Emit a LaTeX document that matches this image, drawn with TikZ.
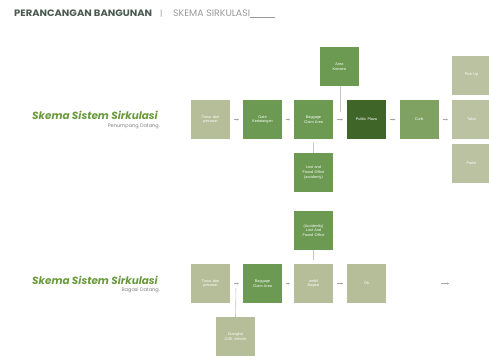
\documentclass[tikz,border=0pt]{standalone}
\usepackage{fontspec}
\setmainfont{Liberation Sans}
\newfontfamily\titlefont{Poppins}
\usetikzlibrary{arrows.meta}
\definecolor{sage}{HTML}{B5BE99}
\definecolor{sagelt}{HTML}{BAC2A1}
\definecolor{midgreen}{HTML}{6C9A52}
\definecolor{curbgreen}{HTML}{7FA263}
\definecolor{darkgreen}{HTML}{3F6628}
\definecolor{titlegreen}{HTML}{6A9A3C}
\definecolor{headgray}{HTML}{4A5A50}
\tikzset{
  box/.style={minimum width=39pt, minimum height=39pt, inner sep=1pt, align=center,
    text width=36pt, text=white, font=\fontsize{3.8}{4.6}\selectfont, draw=none},
  flow/.style={draw=gray!70, line width=0.5pt, -{Stealth[length=2pt,width=2pt]},
    shorten >=4pt, shorten <=4pt},
  link/.style={draw=gray!45, line width=0.6pt},
}
\begin{document}
\begin{tikzpicture}[x=1pt,y=-1pt]
\useasboundingbox (0,0) rectangle (489,360);
% header
\node[anchor=base west, inner sep=0, text=headgray] (hd1) at (14,16.5) {\resizebox{138pt}{6.6pt}{\titlefont\bfseries PERANCANGAN\ BANGUNAN}};
\node[anchor=base west, inner sep=0, text=gray!80, font=\titlefont\fontsize{8}{10}\selectfont] (hd0) at (160,16.5) {|};
\node[anchor=base west, inner sep=0, text=gray!80] (hd2) at (173,16.5) {\resizebox{77pt}{6.6pt}{\titlefont SKEMA SIRKULASI}};
\node[anchor=base west, inner sep=0, text=gray!80] (hd3) at (250,16.5) {\rule[-0.8pt]{25pt}{0.5pt}};
% section titles
\node[anchor=east, inner sep=0, font=\titlefont\bfseries\itshape\fontsize{10.4}{12}\selectfont, text=titlegreen] (t1) at (158,115) {Skema Sistem Sirkulasi};
\node[anchor=east, inner sep=0, font=\titlefont\fontsize{5}{6}\selectfont, text=gray] (s1) at (160,126) {Penumpang Datang.};
\node[anchor=east, inner sep=0, font=\titlefont\bfseries\itshape\fontsize{10.4}{12}\selectfont, text=titlegreen] (t2) at (158,280) {Skema Sistem Sirkulasi};
\node[anchor=east, inner sep=0, font=\titlefont\fontsize{5}{6}\selectfont, text=gray] (s2) at (160,290) {Bagasi Datang.};
% top row
\node[box, fill=sage] (a1) at (210.5,119.5) {Turun dari\\pesawat};
\node[box, fill=midgreen] (a2) at (262.5,119.5) {Gate\\Kedatangan};
\node[box, fill=midgreen] (a3) at (313.5,119.5) {Baggage\\Claim Area};
\node[box, fill=midgreen] (a4) at (339.5,66.5) {Area\\Konsesi};
\node[box, fill=midgreen] (a5) at (313.5,172.5) {Lost and\\Found Office\\(accidenty)};
\node[box, fill=darkgreen] (a6) at (366.5,119.5) {Public Plaza};
\node[box, fill=curbgreen] (a7) at (419,119.5) {Curb};
\node[box, fill=sagelt] (a8) at (471.5,75) {Pick Up};
\node[box, fill=sagelt] (a9) at (471.5,119.5) {Taksi};
\node[box, fill=sagelt] (a10) at (471.5,163.5) {Parkir};
\coordinate (k1) at (340,112);
\draw[flow] (a1) -- (a2);
\draw[flow] (a2) -- (a3);
\draw[flow] (a3) -- (a6);
\draw[flow] (a6) -- (a7);
\draw[flow] (a7) -- (a9);
\draw[link] (a4.south -| k1) -- (k1);
\draw[link] ([yshift=-4pt]a3.south) -- (a5.north);
% bottom row
\node[box, fill=sage] (b1) at (210.5,283.5) {Turun dari\\pesawat};
\node[box, fill=midgreen] (b2) at (262.5,283.5) {Baggage\\Claim Area};
\node[box, fill=sage] (b3) at (313.5,283.5) {ambil\\Bagasi};
\node[box, fill=midgreen] (b4) at (313.5,230.5) {(Accidently)\\Lost And\\Found Office};
\node[box, fill=sage] (b5) at (235.5,336.5) {Diangkut\\GSE Vehicle};
\node[box, fill=sage] (b6) at (366.5,283.5) {Ok};
\coordinate (d1) at (236,288);
\coordinate (e1) at (441,283.5);
\coordinate (e2) at (449,283.5);
\draw[flow] (b1) -- (b2);
\draw[flow] (b2) -- (b3);
\draw[flow] (b3) -- (b6);
\draw[flow, shorten <=0pt, shorten >=0pt] (e1) -- (e2);
\draw[link] (b5.north) -- (d1);
\draw[link] (b4.south) -- ([yshift=-10pt]b4.south);
\end{tikzpicture}
\end{document}
